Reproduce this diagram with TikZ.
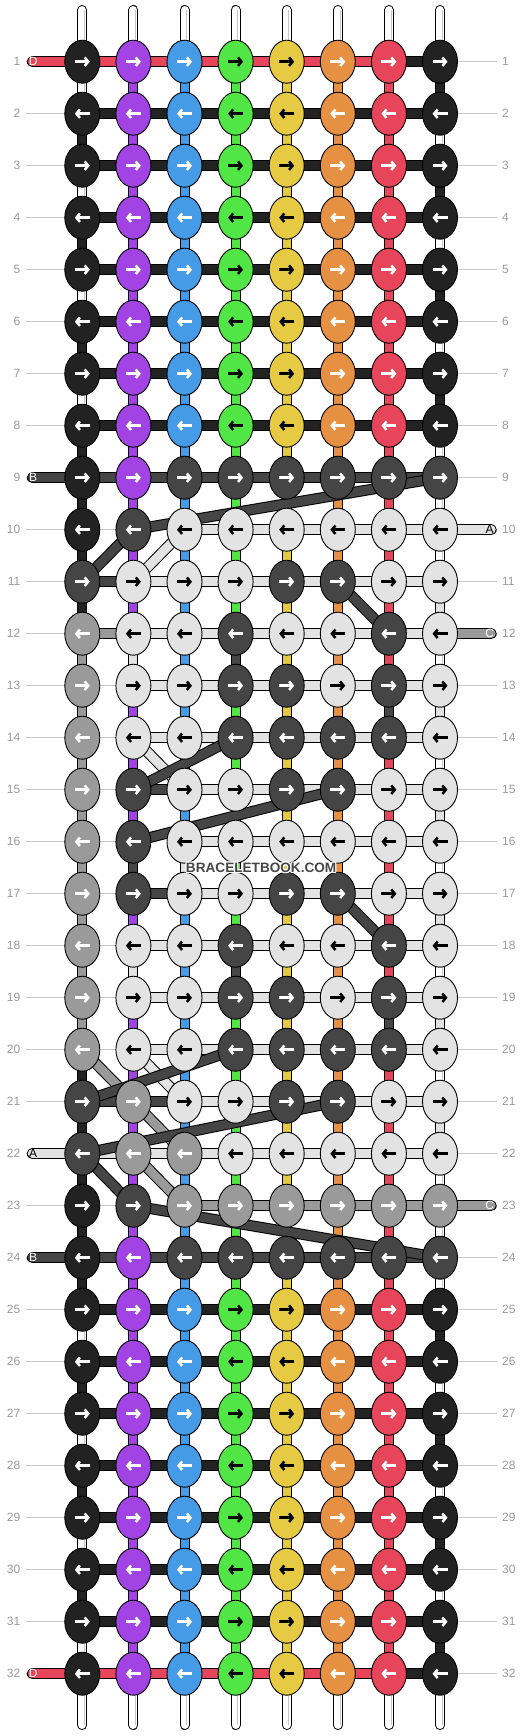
\documentclass[tikz,border=0pt]{standalone}
\usepackage{fontspec}
\setmainfont{Liberation Sans}
\usetikzlibrary{shapes.geometric,
                calc, %for shifted arrow ends
                arrows.meta, % for the knot arrows
                positioning}

\definecolor{bbK}{HTML}{222222}
\definecolor{bbP}{HTML}{A243E3}
\definecolor{bbU}{HTML}{459BE6}
\definecolor{bbG}{HTML}{51E646}
\definecolor{bbY}{HTML}{E6CA44}
\definecolor{bbO}{HTML}{E69043}
\definecolor{bbR}{HTML}{E6455A}
\definecolor{bbD}{HTML}{454545}
\definecolor{bbM}{HTML}{9A9A9A}
\definecolor{bbL}{HTML}{E3E3E3}
\definecolor{bbW}{HTML}{FFFFFF}
\colorlet{abK}{white}
\colorlet{abP}{white}
\colorlet{abU}{white}
\colorlet{abG}{black}
\colorlet{abY}{black}
\colorlet{abO}{white}
\colorlet{abR}{white}
\colorlet{abD}{white}
\colorlet{abM}{white}
\colorlet{abL}{black}

% row / knots / bars / warps below
\def\PatRows{%
 1/{K,P,U,G,Y,O,R,K}/{R,R,R,R,R,R,K}/{W,P,U,G,Y,O,R,K},
 2/{K,P,U,G,Y,O,R,K}/{K,K,K,K,K,K,K}/{K,P,U,G,Y,O,R,W},
 3/{K,P,U,G,Y,O,R,K}/{K,K,K,K,K,K,K}/{W,P,U,G,Y,O,R,K},
 4/{K,P,U,G,Y,O,R,K}/{K,K,K,K,K,K,K}/{K,P,U,G,Y,O,R,W},
 5/{K,P,U,G,Y,O,R,K}/{K,K,K,K,K,K,K}/{W,P,U,G,Y,O,R,K},
 6/{K,P,U,G,Y,O,R,K}/{K,K,K,K,K,K,K}/{K,P,U,G,Y,O,R,W},
 7/{K,P,U,G,Y,O,R,K}/{K,K,K,K,K,K,K}/{W,P,U,G,Y,O,R,K},
 8/{K,P,U,G,Y,O,R,K}/{K,K,K,K,K,K,K}/{K,P,U,G,Y,O,R,W},
 9/{K,P,D,D,D,D,D,D}/{D,D,D,D,D,D,D}/{K,P,U,G,Y,O,R,W},
 10/{K,D,L,L,L,L,L,L}/{N,N,L,L,L,L,L}/{K,P,U,G,Y,O,R,W},
 11/{D,L,L,L,D,D,L,L}/{D,L,L,L,L,L,L}/{K,P,U,G,Y,O,R,L},
 12/{M,L,L,D,L,L,D,L}/{M,L,L,L,L,L,L}/{M,L,U,D,Y,O,R,W},
 13/{M,L,L,D,D,L,D,L}/{N,L,L,L,L,L,L}/{M,P,U,G,Y,O,D,L},
 14/{M,L,L,D,D,D,D,L}/{N,L,L,L,L,L,L}/{M,P,U,G,Y,O,R,W},
 15/{M,D,L,L,D,D,L,L}/{N,D,L,L,L,L,L}/{M,P,U,G,Y,O,R,L},
 16/{M,D,L,L,L,L,L,L}/{N,N,L,L,L,L,L}/{M,D,L,G,Y,O,R,W},
 17/{M,D,L,L,D,D,L,L}/{N,D,L,L,L,L,L}/{M,P,U,G,Y,O,R,L},
 18/{M,L,L,D,L,L,D,L}/{N,L,L,L,L,L,L}/{M,L,U,D,Y,O,R,W},
 19/{M,L,L,D,D,L,D,L}/{N,L,L,L,L,L,L}/{M,P,U,G,Y,O,D,L},
 20/{M,L,L,D,D,D,D,L}/{N,L,L,L,L,L,L}/{K,P,U,G,Y,O,R,W},
 21/{D,M,L,L,D,D,L,L}/{D,D,L,L,L,L,L}/{K,P,U,G,Y,O,R,L},
 22/{D,M,M,L,L,L,L,L}/{L,L,L,L,L,L,L}/{K,P,U,G,Y,O,R,W},
 23/{K,D,M,M,M,M,M,M}/{N,N,M,M,M,M,M}/{K,P,U,G,Y,O,R,W},
 24/{K,P,D,D,D,D,D,D}/{D,D,D,D,D,D,D}/{K,P,U,G,Y,O,R,W},
 25/{K,P,U,G,Y,O,R,K}/{K,K,K,K,K,K,K}/{W,P,U,G,Y,O,R,K},
 26/{K,P,U,G,Y,O,R,K}/{K,K,K,K,K,K,K}/{K,P,U,G,Y,O,R,W},
 27/{K,P,U,G,Y,O,R,K}/{K,K,K,K,K,K,K}/{W,P,U,G,Y,O,R,K},
 28/{K,P,U,G,Y,O,R,K}/{K,K,K,K,K,K,K}/{K,P,U,G,Y,O,R,W},
 29/{K,P,U,G,Y,O,R,K}/{K,K,K,K,K,K,K}/{W,P,U,G,Y,O,R,K},
 30/{K,P,U,G,Y,O,R,K}/{K,K,K,K,K,K,K}/{K,P,U,G,Y,O,R,W},
 31/{K,P,U,G,Y,O,R,K}/{K,K,K,K,K,K,K}/{W,P,U,G,Y,O,R,K},
 32/{K,P,U,G,Y,O,R,K}/{R,R,R,R,R,R,K}/{W}%
}

\begin{document}
\begin{tikzpicture}[x=1pt, y=-1pt,
                    Knot/.style={draw, line width=0.9pt, ellipse, minimum width=35pt, minimum height=43pt, inner sep=0pt},
                    Strand/.style={line width=1pt, draw=black, double=#1, double distance=9pt},
                    Warp/.style={line width=1pt, draw=black, double=#1, double distance=8pt},
                    Shine/.style={line width=0.9pt, black!22},
                    Turn/.style={line width=2.5pt, -{Straight Barb[length=3.5pt,width=8.5pt]}},
                    Guide/.style={line width=0.8pt, black!22},
                    Num/.style={text=black!40, font=\fontsize{12}{12}\selectfont, inner sep=0pt},
                    EndTag/.style={font=\fontsize{12}{12}\selectfont, inner sep=0pt},
                    Mark/.style={font=\bfseries\fontsize{13.6}{14}\selectfont, inner sep=0pt}
                    ]
    \useasboundingbox (0,0) rectangle (532,1736);

    % GRID %
    \foreach \r in {1,...,32}{
    \foreach \c in {1,...,8}{
    \coordinate (k\r-\c) at ({82.3+51.1*(\c-1)},{61.7+52*(\r-1)});
    }
    \coordinate (gl\r) at (26,{61.7+52*(\r-1)});
    \coordinate (gr\r) at (497,{61.7+52*(\r-1)});
    \draw[Guide] (gl\r) -- (k\r-2);
    \draw[Guide] (k\r-8) -- (gr\r);
    \node[Num, anchor=east] (ln\r) at (20.5,{61.7+52*(\r-1)}) {\r};
    \node[Num, anchor=west] (rn\r) at (502,{61.7+52*(\r-1)}) {\r};
    }

    % LOOSE ENDS %
    \foreach \c in {1,...,8}{
    \coordinate (top\c) at ({82.3+51.1*(\c-1)},10);
    \coordinate (bot\c) at ({82.3+51.1*(\c-1)},1725);
    \draw[Warp=white, line cap=round] (top\c) -- (k1-\c);
    \draw[Shine] ($(top\c)+(2.2,0)$) -- ($(k1-\c)+(2.2,0)$);
    \draw[Warp=white, line cap=round] (k32-\c) -- (bot\c);
    \draw[Shine] ($(k32-\c)+(2.2,0)$) -- ($(bot\c)+(2.2,0)$);
    }

    % WARPS %
    \foreach \r/\kn/\br/\gp in \PatRows{
    \ifnum\r<32
    \pgfmathtruncatemacro\rn{\r+1}
    \foreach \v [count=\c] in \gp{
    \draw[Warp=bb\v] (k\r-\c) -- (k\rn-\c);
    \if W\v \draw[Shine] ($(k\r-\c)+(2.2,0)$) -- ($(k\rn-\c)+(2.2,0)$); \fi
    }
    \fi
    }

    % BARS %
    \foreach \r/\kn/\br/\gp in \PatRows{
    \foreach \b [count=\c] in \br{
    \if N\b \else
    \pgfmathtruncatemacro\cn{\c+1}
    \draw[Strand=bb\b] (k\r-\c) -- (k\r-\cn);
    \fi
    }
    }

    \foreach \r/\k/\t/\tc in {1/R/D/white, 9/D/B/white, 22/L/A/black, 24/D/B/white, 32/R/D/white}{
    \coordinate (el\r) at (32.3,{61.7+52*(\r-1)});
    \draw[Strand=bb\k, line cap=round] (el\r) -- (k\r-1);
    \node[EndTag, text=\tc] (tl\r) at ($(el\r)+(0.8,0)$) {\t};
    }
    \foreach \r/\k/\t/\tc in {10/L/A/black, 12/M/C/white, 23/M/C/white}{
    \coordinate (er\r) at (491.2,{61.7+52*(\r-1)});
    \draw[Strand=bb\k, line cap=round] (k\r-8) -- (er\r);
    \node[EndTag, text=\tc] (tr\r) at ($(er\r)+(-1.5,0)$) {\t};
    }

    % CROSSINGS %
    \foreach \ra/\ca/\rb/\cb/\k in {9/8/10/2/D, 10/2/11/1/D, 10/3/11/2/L, 11/6/12/7/D,
                                    14/2/15/3/L, 14/4/15/2/D, 15/6/16/2/D, 17/6/18/7/D,
                                    20/1/21/2/M, 20/2/21/3/L, 20/4/21/1/D, 21/2/22/3/M,
                                    21/6/22/1/D, 22/1/23/2/D, 22/2/23/3/M, 23/2/24/8/D}{
    \draw[Strand=bb\k] (k\ra-\ca) -- (k\rb-\cb);
    }

    % KNOTS %
    \foreach \r/\kn/\br/\gp in \PatRows{
    \foreach \k [count=\c] in \kn{
    \node[Knot, fill=bb\k] (n\r-\c) at (k\r-\c) {};
    \ifodd\r
    \draw[Turn, color=ab\k] ($(n\r-\c)+(-7.5,0)$) -- ($(n\r-\c)+(7.5,0)$);
    \else
    \draw[Turn, color=ab\k] ($(n\r-\c)+(7.5,0)$) -- ($(n\r-\c)+(-7.5,0)$);
    \fi
    }
    }

    % WATERMARK %
    \coordinate (mid) at ($(k16-1)!0.5!(k17-8)$);
    \foreach \dx/\dy [count=\i] in {-1/0,1/0,0/-1,0/1,-1/-1,1/1,-1/1,1/-1}{
    \node[Mark, text=white] (halo\i) at ($(mid)+(\dx,\dy)$) {BRACELETBOOK.COM};
    }
    \node[Mark, text=bbD] (mark) at (mid) {BRACELETBOOK.COM};

\end{tikzpicture}
\end{document}
